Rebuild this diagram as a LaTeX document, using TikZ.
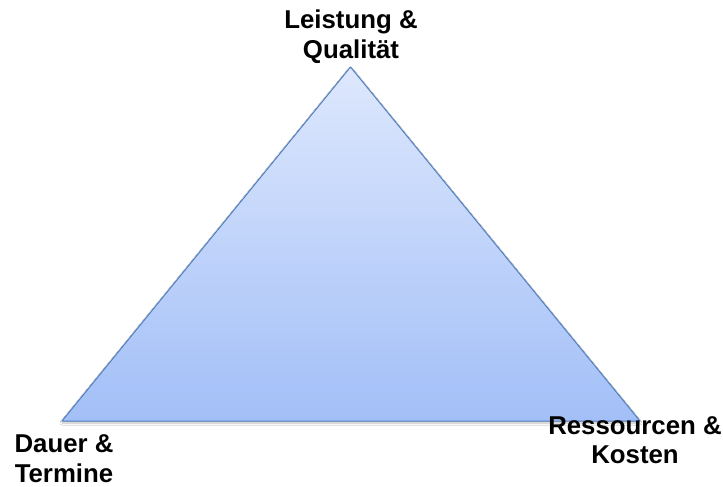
\documentclass[tikz,border=0pt]{standalone}
\usepackage{fontspec}
\setmainfont{Liberation Sans}
\usetikzlibrary{shadows.blur}
\definecolor{edgeblue}{HTML}{4F7EC0}
\definecolor{filltop}{HTML}{DEE8FD}
\definecolor{fillbottom}{HTML}{A2BFF7}
\tikzset{
  corner label/.style={align=center, anchor=base, inner sep=0pt,
    font=\fontsize{25.8}{29.5}\selectfont\bfseries, text=black},
  tri/.style={draw=edgeblue, line width=1pt, line join=round,
    top color=filltop, bottom color=fillbottom,
    blur shadow={shadow xshift=0pt, shadow yshift=-2pt,
      shadow blur steps=6, shadow opacity=25}}
}
\begin{document}
\begin{tikzpicture}[x=1pt, y=-1pt]
  \useasboundingbox[fill=white] (0,0) rectangle (723,487);
  % corners of the triangle
  \coordinate (apex)  at (350.5,67);
  \coordinate (left)  at (62,421);
  \coordinate (right) at (640,421);
  \path[tri] (apex) -- (left) -- (right) -- cycle;
  % labels at the corners (anchored on the baseline of their last line)
  \node[corner label] (quality)   at (351,58.5) {Leistung \&\\Qualität};
  \node[corner label] (time)      at (64,482)   {Dauer \&\\Termine};
  \node[corner label] (resources) at (635,463.5) {Ressourcen \&\hspace{15pt}\\Kosten};
\end{tikzpicture}
\end{document}
